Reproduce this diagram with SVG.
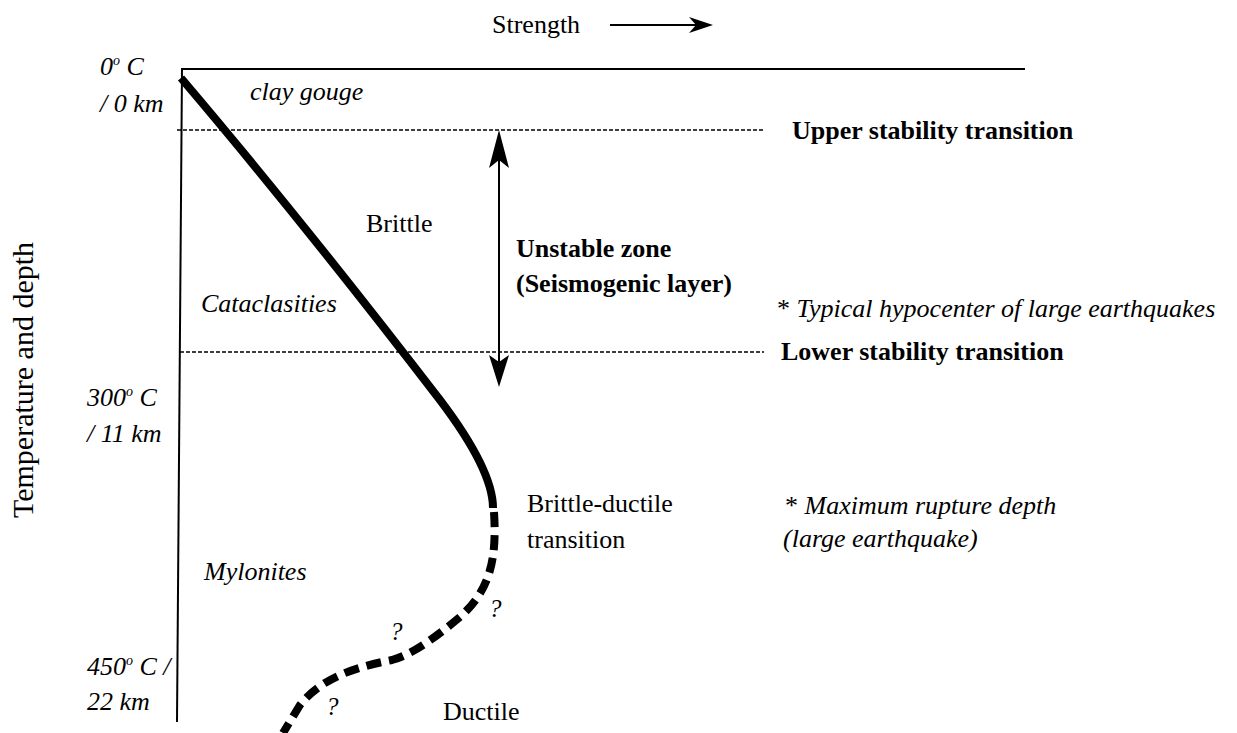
<svg xmlns="http://www.w3.org/2000/svg" width="1237" height="733" viewBox="0 0 1237 733">
<style>
text{font-family:"Liberation Serif","Times New Roman",serif;font-size:26px;fill:#000}
.it{font-style:italic}
.b{font-weight:bold}
.sup{font-size:14px}
.q{font-size:25px}
.axis{stroke:#000;stroke-width:2;fill:none}
.dash{stroke:#000;stroke-width:1.6;stroke-dasharray:4 2;fill:none}
.curve{stroke:#000;stroke-width:8;fill:none}
.curved{stroke:#000;stroke-width:8;fill:none;stroke-dasharray:15 8}
.thin{stroke:#000;stroke-width:2;fill:none}
</style>
<rect width="1237" height="733" fill="#fff"/>
<g id="connectors">
<line class="axis" x1="181" y1="69" x2="1025" y2="69"/>
<line class="axis" x1="182" y1="68" x2="177" y2="722"/>
<line class="dash" x1="177" y1="130" x2="763" y2="130"/>
<line class="dash" x1="180" y1="352" x2="764" y2="352"/>
<line class="thin" x1="499" y1="150" x2="499" y2="370"/>
<polygon points="499,130 509,168 499,160 489,168" fill="#000"/>
<polygon points="499,387 509,355 499,362 489,355" fill="#000"/>
<line class="thin" x1="610" y1="25" x2="700" y2="25"/>
<polygon points="713,25 689,17 696,25 689,33" fill="#000"/>
<path class="curve" d="M181,78 Q300,218 440,400 Q493,470 493,508"/>
<path class="curved" d="M494,512 C497,560 490,590 460,617 C430,642 410,655 392,660 C350,668 320,680 300,705 L283,733"/>
</g>
<g id="title"><text x="492" y="33">Strength</text></g>
<g id="yaxis-label"><text x="0" y="0" transform="translate(33,380) rotate(-90)" text-anchor="middle" style="font-size:30px">Temperature and depth</text></g>
<g id="t0"><text class="it" x="100" y="75">0<tspan class="sup" dy="-10">o</tspan><tspan dy="10"> C</tspan></text><text class="it" x="100" y="112">/ 0 km</text></g>
<g id="t300"><text class="it" x="87" y="406">300<tspan class="sup" dy="-10">o</tspan><tspan dy="10"> C</tspan></text><text class="it" x="87" y="442">/ 11 km</text></g>
<g id="t450"><text class="it" x="87" y="675">450<tspan class="sup" dy="-10">o</tspan><tspan dy="10"> C /</tspan></text><text class="it" x="87" y="710">22 km</text></g>
<g id="clay"><text class="it" x="250" y="100">clay gouge</text></g>
<g id="upper"><text class="b" x="792" y="139">Upper stability transition</text></g>
<g id="brittle"><text x="366" y="232">Brittle</text></g>
<g id="unstable"><text class="b" x="516" y="257">Unstable zone</text><text class="b" x="516" y="292">(Seismogenic layer)</text></g>
<g id="catac"><text class="it" x="201" y="312">Cataclasities</text></g>
<g id="hypo"><text x="777" y="317">* <tspan class="it">Typical hypocenter of large earthquakes</tspan></text></g>
<g id="lower"><text class="b" x="781" y="360">Lower stability transition</text></g>
<g id="bdt"><text x="527" y="512">Brittle-ductile</text><text x="527" y="548">transition</text></g>
<g id="maxrup"><text x="785" y="514">* <tspan class="it">Maximum rupture depth</tspan></text><text class="it" x="783" y="547">(large earthquake)</text></g>
<g id="mylo"><text class="it" x="204" y="580">Mylonites</text></g>
<g id="q1"><text class="it q" x="489" y="617">?</text></g>
<g id="q2"><text class="it q" x="390" y="640">?</text></g>
<g id="q3"><text class="it q" x="326" y="715">?</text></g>
<g id="ductile"><text x="443" y="720">Ductile</text></g>
</svg>
